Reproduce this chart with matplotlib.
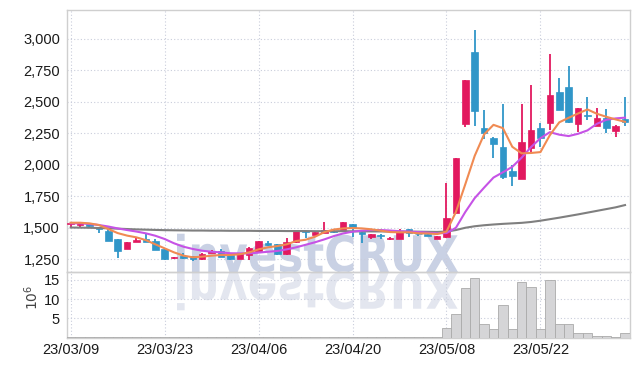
import numpy as np
import matplotlib
matplotlib.use("Agg")
import matplotlib.pyplot as plt
import matplotlib.transforms as mtransforms
from matplotlib.font_manager import FontProperties
from matplotlib.patches import PathPatch
from matplotlib.textpath import TextPath
from matplotlib.ticker import FuncFormatter

# daily candles, 60 trading days from 23/03/09
tick_pos = [0, 10, 20, 30, 40, 50]
tick_labels = ["23/03/09", "23/03/23", "23/04/06", "23/04/20", "23/05/08", "23/05/22"]

opens = [1528, 1525, 1527, 1508, 1477, 1411, 1330, 1390, 1410, 1397,
         1328, 1258, 1278, 1278, 1250, 1302, 1316, 1284, 1253, 1285,
         1318, 1380, 1369, 1290, 1385, 1476, 1446, 1457, 1474, 1482,
         1530, 1466, 1429, 1445, 1408, 1413, 1490, 1450, 1448, 1414,
         1424, 1620, 2323, 2895, 2292, 2213, 2144, 1949, 1886, 2134,
         2287, 2327, 2578, 2618, 2319, 2393, 2308, 2374, 2269, 2361]
highs = [1545, 1540, 1530, 1510, 1495, 1413, 1388, 1430, 1450, 1408,
         1340, 1270, 1297, 1280, 1302, 1320, 1335, 1286, 1300, 1345,
         1398, 1395, 1372, 1418, 1485, 1478, 1466, 1548, 1480, 1548,
         1532, 1470, 1451, 1448, 1423, 1490, 1492, 1462, 1465, 1436,
         1855, 2055, 2675, 3070, 2432, 2220, 2478, 1997, 2478, 2628,
         2327, 2881, 2690, 2785, 2448, 2539, 2446, 2438, 2316, 2533]
lows = [1505, 1508, 1508, 1458, 1395, 1258, 1328, 1388, 1388, 1320,
        1242, 1256, 1255, 1235, 1248, 1300, 1270, 1245, 1250, 1247,
        1316, 1355, 1288, 1282, 1383, 1418, 1444, 1455, 1455, 1480,
        1429, 1378, 1408, 1410, 1406, 1410, 1430, 1432, 1433, 1412,
        1420, 1618, 2295, 2306, 2205, 2050, 1890, 1835, 1884, 2095,
        2142, 2274, 2430, 2327, 2261, 2353, 2306, 2248, 2221, 2306]
closes = [1540, 1535, 1512, 1488, 1398, 1312, 1385, 1406, 1390, 1322,
          1252, 1268, 1258, 1250, 1292, 1317, 1272, 1253, 1292, 1340,
          1396, 1365, 1290, 1388, 1482, 1466, 1464, 1482, 1466, 1545,
          1496, 1450, 1449, 1436, 1421, 1477, 1462, 1447, 1435, 1434,
          1575, 2053, 2670, 2427, 2254, 2163, 1904, 1911, 2178, 2274,
          2213, 2551, 2435, 2340, 2446, 2385, 2374, 2287, 2306, 2341]

# moving averages as drawn on the chart
ma_short = [1540, 1540, 1535, 1522, 1490, 1458, 1438, 1424, 1402, 1369,
            1337, 1305, 1279, 1266, 1271, 1279, 1284, 1284, 1290, 1305,
            1329, 1345, 1355, 1369, 1395, 1405, 1429, 1465, 1486, 1495,
            1498, 1495, 1488, 1477, 1466, 1464, 1464, 1456, 1455, 1450,
            1470, 1625, 1845, 2070, 2240, 2316, 2290, 2142, 2090, 2093,
            2100, 2234, 2336, 2372, 2406, 2438, 2404, 2380, 2359, 2340]
ma_mid = [1535, 1535, 1530, 1522, 1510, 1495, 1482, 1470, 1456, 1437,
          1411, 1377, 1350, 1332, 1318, 1310, 1305, 1298, 1297, 1297,
          1303, 1310, 1316, 1329, 1345, 1365, 1385, 1408, 1434, 1455,
          1469, 1477, 1482, 1482, 1478, 1473, 1470, 1466, 1461, 1456,
          1458, 1500, 1625, 1735, 1818, 1898, 1940, 1983, 2056, 2140,
          2210, 2258, 2238, 2227, 2245, 2272, 2324, 2356, 2367, 2373]
ma_long = [1502, 1501, 1500, 1498, 1496, 1493, 1490, 1487, 1485, 1483,
           1481, 1480, 1479, 1478, 1478, 1477, 1477, 1476, 1476, 1476,
           1475, 1475, 1475, 1474, 1474, 1474, 1473, 1473, 1473, 1473,
           1472, 1472, 1471, 1471, 1470, 1470, 1469, 1469, 1468, 1467,
           1470, 1482, 1500, 1512, 1520, 1526, 1531, 1535, 1539, 1546,
           1556, 1568, 1580, 1593, 1606, 1620, 1634, 1648, 1662, 1680]

# volume, millions of shares
volumes = [0.04, 0.04, 0.04, 0.04, 0.04, 0.25, 0.04, 0.04, 0.04, 0.04,
           0.04, 0.04, 0.04, 0.04, 0.04, 0.04, 0.04, 0.04, 0.04, 0.04,
           0.04, 0.04, 0.04, 0.2, 0.2, 0.04, 0.04, 0.04, 0.04, 0.04,
           0.04, 0.04, 0.04, 0.04, 0.04, 0.04, 0.04, 0.04, 0.04, 0.04,
           2.6, 6.0, 12.8, 15.4, 3.4, 2.1, 8.6, 2.1, 14.4, 13.1,
           2.1, 15.1, 3.65, 3.65, 1.3, 1.05, 0.5, 0.5, 0.25, 1.3]

UP = "#e2195f"
DOWN = "#3096c8"
GRID = "#c9cddb"
SPINE = "#cfcfcf"
TICK_FONT = ["Liberation Sans", "DejaVu Sans"]

fig = plt.figure(figsize=(6.39, 3.66), dpi=100)
ax = fig.add_axes([67 / 639, 93.7 / 366, 563 / 639, 262.5 / 366])
axv = fig.add_axes([67 / 639, 28.5 / 366, 563 / 639, 65.2 / 366], sharex=ax)
for a in (ax, axv):
    a.set_facecolor("none")
    for sp in a.spines.values():
        sp.set_color(SPINE)
        sp.set_linewidth(1.0)
    a.grid(True, linestyle=(0, (1, 2)), color=GRID, linewidth=0.8)
    a.set_axisbelow(True)
    a.tick_params(length=0, colors="#1a1a1a", labelsize=10.5)

# watermark and its reflection
tp = TextPath((0, 0), "investCRUX", size=100, prop=FontProperties(family="DejaVu Sans", weight="bold"))
ext = tp.get_extents()
sx, sy = 281 / ext.width, 39 / ext.height
base = mtransforms.Affine2D().translate(-ext.x0, 0)
for flip, col in ((1, "#c9d1e4"), (-1, "#e3e6ef")):
    tr = (base + mtransforms.Affine2D().scale(sx, flip * sy).translate(177, 366 - 272).scale(1 / 100)
          + fig.dpi_scale_trans)
    fig.add_artist(PathPatch(tp, transform=tr, facecolor=col, edgecolor="none", zorder=-1))

x = np.arange(len(closes))
o = np.array(opens)
c = np.array(closes)
colors = [UP if cc >= oo else DOWN for oo, cc in zip(o, c)]
ax.vlines(x, lows, highs, colors=colors, linewidth=1.3, zorder=3)
body_lo = np.minimum(o, c)
body_h = np.maximum(np.abs(c - o), 6)
ax.bar(x, body_h, bottom=body_lo, width=0.7, color=colors, edgecolor=colors, linewidth=0.5, zorder=4)

ax.plot(x, ma_long, color="#7f7f7f", linewidth=1.5, zorder=5)
ax.plot(x, ma_mid, color="#c653e6", linewidth=1.5, zorder=5)
ax.plot(x, ma_short, color="#f08a52", linewidth=1.5, zorder=5)

ax.set_xlim(-0.39, 59.53)
ax.set_ylim(1147, 3228)
ax.set_yticks([1250, 1500, 1750, 2000, 2250, 2500, 2750, 3000])
ax.yaxis.set_major_formatter(FuncFormatter(lambda v, _: f"{v:,.0f}"))
ax.tick_params(axis="x", labelbottom=False)
ax.tick_params(axis="y", pad=5)

axv.bar(x, volumes, width=1.0, color="#d5d5d7", edgecolor="#aaaaaa", linewidth=0.6, zorder=3)
axv.set_ylim(0, 17)
axv.set_yticks([5, 10, 15])
axv.tick_params(axis="y", pad=5)
axv.set_xticks(tick_pos)
axv.set_xticklabels(tick_labels)
axv.tick_params(axis="x", pad=4)

for lab in ax.get_yticklabels() + axv.get_yticklabels() + axv.get_xticklabels():
    lab.set_family(TICK_FONT)

fig.text(32 / 639, 69 / 366, r"$10^6$", rotation=90, ha="center", va="center", fontsize=10, color="#444444")

fig.savefig("out.png", dpi=100, facecolor="white")
